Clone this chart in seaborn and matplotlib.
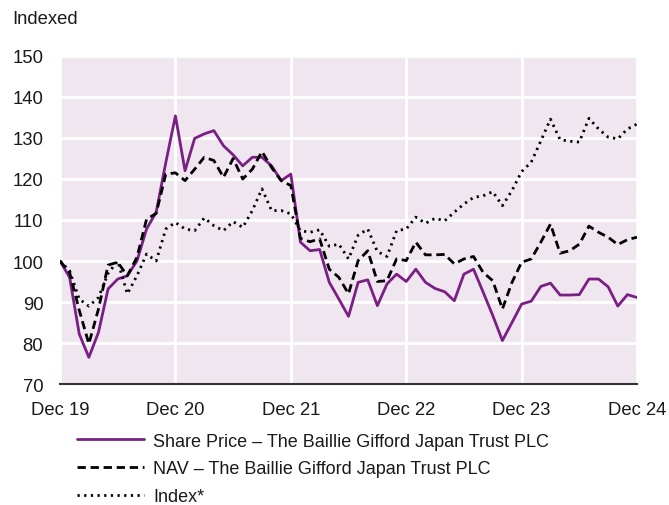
import numpy as np
import pandas as pd
import matplotlib
matplotlib.use("Agg")
import matplotlib.pyplot as plt
import seaborn as sns

# monthly values, Dec 19 .. Dec 24 (61 points), indexed to 100
share_price = [100, 96, 82.2, 76.5, 82.6, 93.2, 95.6, 96.4, 100, 107.8, 111.9, 124,
               135.4, 122, 129.9, 131.0, 131.8, 128.1, 125.9, 123.2, 125.3, 125.3, 123.2, 119.6,
               121.2, 104.6, 102.5, 102.8, 94.8, 90.7, 86.5, 94.8, 95.4, 89.1, 94.4, 96.8,
               95.0, 98.0, 94.8, 93.3, 92.5, 90.3, 96.8, 98.0, 92.4, 86.7, 80.6, 85.0,
               89.5, 90.2, 93.8, 94.6, 91.7, 91.7, 91.8, 95.6, 95.6, 93.7, 89.0, 91.8, 91.1]
nav = [100, 97.2, 88, 79.8, 88.3, 99.0, 99.7, 96.4, 100.9, 110.2, 111.6, 121.2,
       121.5, 119.6, 122.4, 125.3, 124.5, 120.4, 125.0, 120.0, 122.4, 126.7, 122.8, 119.6,
       118.4, 105.5, 104.7, 105.4, 98.0, 96.0, 92.0, 100.1, 102.5, 95.0, 95.2, 100.5,
       100.1, 104.6, 101.5, 101.5, 101.6, 99.3, 100.5, 101.1, 97.2, 95.2, 88.3, 94.8,
       99.7, 100.5, 104.6, 109.0, 101.9, 102.5, 104.1, 108.5, 107.0, 105.8, 104.0, 105.2, 105.8]
index = [100, 97.6, 90.7, 89.0, 91.1, 97, 100, 92.0, 96.4, 101.7, 100.0, 107.8,
         109.4, 107.8, 107.4, 110.5, 108.6, 107.4, 109.6, 108.2, 112.3, 117.6, 112.3, 112.3,
         111.5, 107.4, 107.0, 107.6, 103.6, 104.1, 100.5, 106.3, 107.8, 102.3, 101.1, 107.4,
         107.8, 110.7, 109.2, 110.4, 109.8, 111.9, 113.9, 115.5, 115.9, 116.9, 113.5, 117.2,
         121.8, 124.1, 129.3, 134.6, 129.6, 129.2, 129.0, 134.8, 132.2, 130.2, 129.8, 132.2, 133.4]
tick_labels = ["Dec 19", "Dec 20", "Dec 21", "Dec 22", "Dec 23", "Dec 24"]
labels = ["Share Price \u2013 The Baillie Gifford Japan Trust PLC",
          "NAV \u2013 The Baillie Gifford Japan Trust PLC",
          "Index*"]

months = np.arange(len(share_price))
df = pd.DataFrame({"month": months, "share": share_price, "nav": nav, "index": index})

sns.set_theme(style="white")
plt.rcParams["font.family"] = ["Liberation Sans", "DejaVu Sans"]

fig = plt.figure(figsize=(6.69, 5.06), dpi=100)
ax = fig.add_axes([0.0897, 0.2391, 0.8625, 0.6483])
ax.set_facecolor("#F0E6F0")

sns.lineplot(data=df, x="month", y="share", ax=ax, color="#7A1F83", lw=2.0, label=labels[0])
sns.lineplot(data=df, x="month", y="nav", ax=ax, color="black", lw=2.0,
             linestyle=(0, (3, 1.7)), label=labels[1])
sns.lineplot(data=df, x="month", y="index", ax=ax, color="black", lw=2.0,
             linestyle=(0, (0.8, 1.6)), label=labels[2])

ax.set_xlim(0, 60)
ax.set_ylim(70, 150)
ax.set_xticks(np.arange(0, 61, 12))
ax.set_xticklabels(tick_labels)
ax.set_yticks(np.arange(70, 151, 10))
ax.grid(True, color="white", lw=2)
ax.set_axisbelow(True)
ax.tick_params(axis="both", length=0, labelsize=13.3, colors="#1a1a1a", pad=12)
ax.set_xlabel("")
ax.set_ylabel("")
for s in ["top", "right", "left"]:
    ax.spines[s].set_visible(False)
ax.spines["bottom"].set_color("#333333")
ax.spines["bottom"].set_linewidth(1.5)

fig.text(0.018, 0.962, "Indexed", fontsize=13.3, va="center", ha="left", color="#1a1a1a")

leg = ax.legend(loc="upper left", bbox_to_anchor=(0.1146, 0.143), bbox_transform=fig.transFigure,
                frameon=False, fontsize=13, handlelength=3.75, handletextpad=0.5,
                labelspacing=0.6, borderpad=0, borderaxespad=0)
for t in leg.get_texts():
    t.set_color("#1a1a1a")

fig.savefig("out.png", dpi=100)
